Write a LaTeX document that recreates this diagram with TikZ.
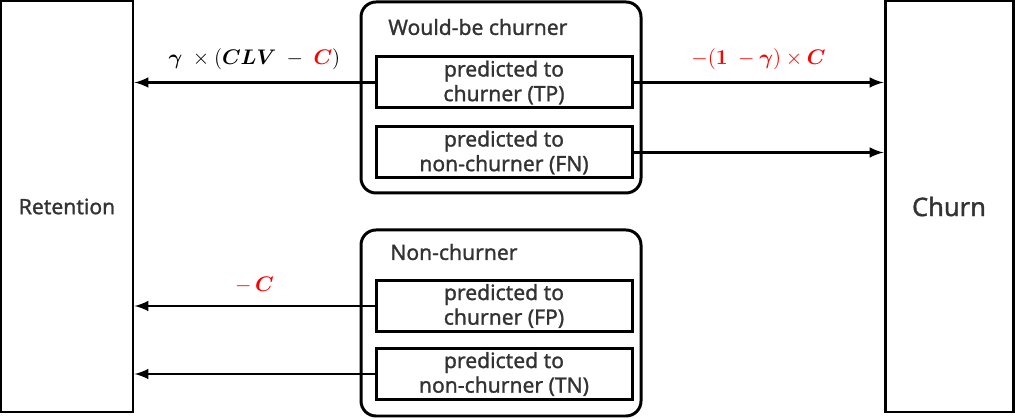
\documentclass[tikz,border=0pt]{standalone}
\usepackage{fontspec}
\usepackage{amsmath,bm}
\setmainfont{Noto Sans}[UprightFeatures={FakeBold=1.2}]
\definecolor{txt}{HTML}{333333}
\definecolor{cost}{HTML}{FF0000}
\begin{document}
\begin{tikzpicture}
      [
      side/.style={draw,line width=1.7pt,rectangle,inner sep=0pt,text=txt,font=\fontsize{12}{14}\selectfont},
      group/.style={draw,line width=1.7pt,rectangle,rounded corners=0.3cm,inner sep=0pt},
      pred/.style={draw,line width=1.7pt,rectangle,inner sep=0pt,minimum width=5.12cm,minimum height=1.02cm,align=center,text=txt,font=\fontsize{12}{14}\selectfont},
      title/.style={text=txt,inner sep=0pt,anchor=west,font=\fontsize{12}{14}\selectfont},
      gain/.style={midway,above=3pt,font=\fontsize{12.5}{15}\selectfont},
      flow/.style={-latex,line width=1.7pt}
      ]
      \useasboundingbox (0,0) rectangle (20.3,8.38);
      \node (ret) at (1.34,4.25) [side,minimum width=2.64cm,minimum height=8.22cm] {Retention};
      \node (churn) at (18.98,4.25) [side,minimum width=2.56cm,minimum height=8.22cm,font=\fontsize{14.5}{16}\selectfont] {Churn};
      \node (wbc) at (10.02,6.43) [group,minimum width=5.6cm,minimum height=3.82cm] {};
      \node (nc) at (10.02,1.92) [group,minimum width=5.6cm,minimum height=3.72cm] {};
      \node (wbclabel) at (7.76,7.84) [title] {Would-be churner};
      \node (nclabel) at (7.8,3.34) [title] {Non-churner};
      \node (tp) at (10.08,6.73) [pred] {predicted to\\churner (TP)};
      \node (fn) at (10.08,5.33) [pred] {predicted to\\non-churner (FN)};
      \node (fp) at (10.08,2.26) [pred] {predicted to\\churner (FP)};
      \node (tn) at (10.08,0.90) [pred] {predicted to\\non-churner (TN)};
      \draw [flow] (tp.west) to node [gain] {$\bm{\gamma}\ \times(\bm{CLV}\ -\ \textcolor{cost}{\bm{C}})$} (tp.west -| ret.east);
      \draw [flow] (tp.east) to node [gain,text=cost] {$-(\bm{1}\ -\bm{\gamma})\times\bm{C}$} (tp.east -| churn.west);
      \draw [flow] (fn.east) to (fn.east -| churn.west);
      \draw [flow] (fp.west) to node [gain,text=cost] {$-\,\bm{C}$} (fp.west -| ret.east);
      \draw [flow] (tn.west) to (tn.west -| ret.east);
    \end{tikzpicture}
\end{document}
